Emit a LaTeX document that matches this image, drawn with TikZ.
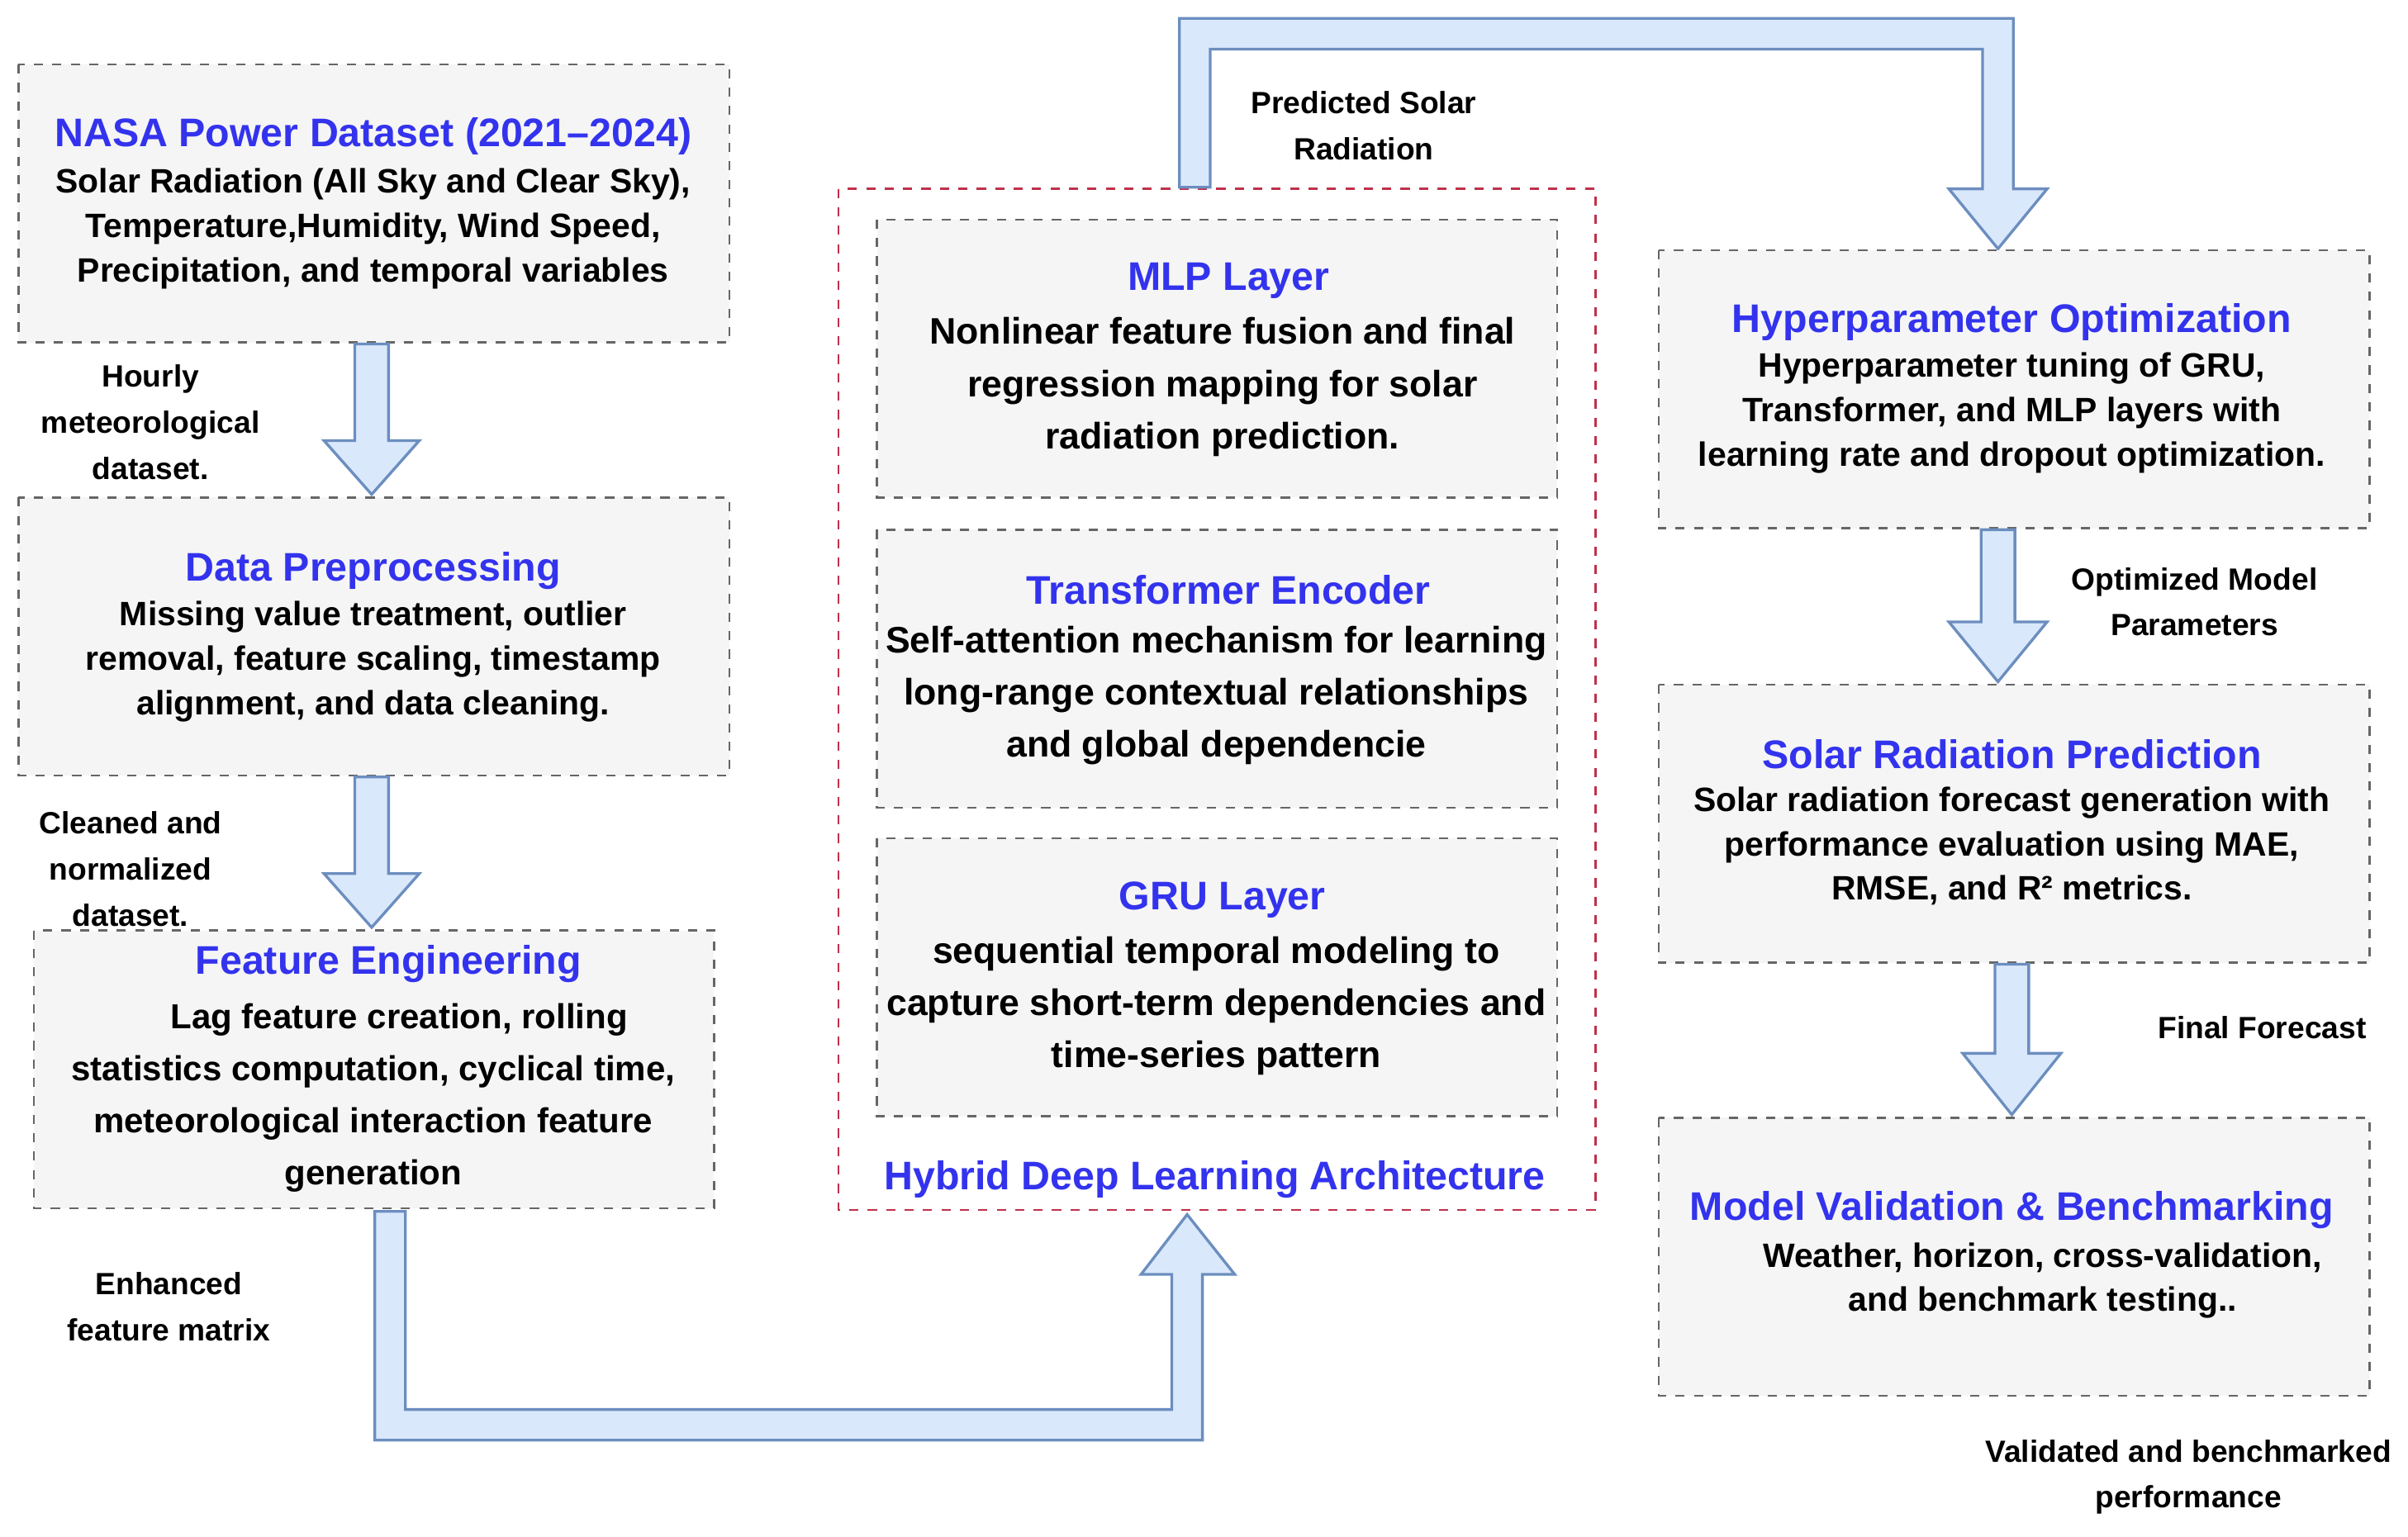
\documentclass[tikz,border=0pt]{standalone}
\usepackage{fontspec}
\setmainfont{Liberation Sans}
\definecolor{afill}{HTML}{DAE8FC}
\definecolor{aline}{HTML}{6C8EBF}
\definecolor{hblue}{HTML}{3333EE}
\definecolor{rdash}{HTML}{C0304A}
\begin{document}
\begin{tikzpicture}[x=0.5pt,y=-0.5pt,
 box/.style={draw=black!60,dashed,fill=black!4,line width=0.7pt},
 arr/.style={draw=aline,fill=afill,line width=0.9pt,line join=miter},
 hd/.style={text=hblue,font=\bfseries\fontsize{13}{15}\selectfont},
 bd/.style={align=center,font=\bfseries\fontsize{11}{14.5}\selectfont,inner sep=0},
 bdm/.style={align=center,font=\bfseries\fontsize{12}{17}\selectfont,inner sep=0},
 lb/.style={align=center,font=\bfseries\fontsize{10}{15}\selectfont,inner sep=0}]
\useasboundingbox (0,0) rectangle (1568,1001);
\fill[white] (0,0) rectangle (1568,1001);
% left boxes
\draw[box] (12,42) rectangle (475,223);
\node[hd] (h1) at (243,89) {NASA Power Dataset (2021–2024)};
\node[bd] (t1) at (243,149) {Solar Radiation (All Sky and Clear Sky),\\Temperature,Humidity, Wind Speed,\\Precipitation, and temporal variables};
\draw[box] (12,324) rectangle (475,505);
\node[hd] (h2) at (243,372) {Data Preprocessing};
\node[bd] (t2) at (243,431) {Missing value treatment, outlier\\removal, feature scaling, timestamp\\alignment, and data cleaning.};
\draw[box] (22,606) rectangle (465,787);
\node[hd] (h3) at (253,628) {Feature Engineering};
\node[bd,font=\bfseries\fontsize{11.3}{17}\selectfont] (t3) at (243,715) {\hspace*{1.5em}Lag feature creation, rolling\\statistics computation, cyclical time,\\meteorological interaction feature\\generation};
% arrows left
\draw[arr] (231,224)--(253,224)--(253,287)--(273,287)--(242,322)--(211,287)--(231,287)--cycle;
\draw[arr] (231,506)--(253,506)--(253,569)--(273,569)--(242,604)--(211,569)--(231,569)--cycle;
\node[lb] (l1) at (98,275) {Hourly\\meteorological\\dataset.};
\node[lb] (l2) at (85,566) {Cleaned and\\normalized\\dataset.};
\node[lb] (l3) at (110,851) {Enhanced\\feature matrix};
% big bottom arrow
\draw[arr] (244,789)--(264,789)--(264,918)--(763,918)--(763,830)--(743,830)--(773,791)--(804,830)--(783,830)--(783,938)--(244,938)--cycle;
% middle
\draw[dashed,draw=rdash,line width=0.7pt] (546,123) rectangle (1039,788);
\node[hd] (hh) at (791,768) {Hybrid Deep Learning Architecture};
\draw[box] (571,143) rectangle (1014,324);
\node[hd] (h4) at (800,183) {MLP Layer};
\node[bdm] (t4) at (796,252) {Nonlinear feature fusion and final\\regression mapping for solar\\radiation prediction.};
\draw[box] (571,345) rectangle (1014,526);
\node[hd] (h5) at (800,384) {Transformer Encoder};
\node[bdm] (t5) at (792,453) {Self-attention mechanism for learning\\long-range contextual relationships\\and global dependencie};
\draw[box] (571,546) rectangle (1014,727);
\node[hd] (h6) at (796,586) {GRU Layer};
\node[bdm] (t6) at (792,655) {sequential temporal modeling to\\capture short-term dependencies and\\time-series pattern};
% top arrow
\draw[arr] (768,122)--(768,12)--(1311,12)--(1311,123)--(1333,123)--(1301,162)--(1269,123)--(1291,123)--(1291,32)--(788,32)--(788,122)--cycle;
\node[lb] (l4) at (888,82) {Predicted Solar\\Radiation};
% right
\draw[box] (1080,163) rectangle (1543,344);
\node[hd] (h7) at (1310,210) {Hyperparameter Optimization};
\node[bd] (t7) at (1310,269) {Hyperparameter tuning of GRU,\\Transformer, and MLP layers with\\learning rate and dropout optimization.};
\draw[box] (1080,446) rectangle (1543,627);
\node[hd] (h8) at (1310,491) {Solar Radiation Prediction};
\node[bd] (t8) at (1310,551) {Solar radiation forecast generation with\\performance evaluation using MAE,\\RMSE, and R² metrics.};
\draw[box] (1080,728) rectangle (1543,909);
\node[hd] (h9) at (1310,788) {Model Validation \& Benchmarking};
\node[bd] (t9) at (1330,834) {Weather, horizon, cross-validation,\\and benchmark testing..};
\draw[arr] (1290,345)--(1312,345)--(1312,405)--(1333,405)--(1301,444)--(1269,405)--(1290,405)--cycle;
\draw[arr] (1299,628)--(1321,628)--(1321,686)--(1342,686)--(1310,726)--(1278,686)--(1299,686)--cycle;
\node[lb] (l5) at (1429,392) {Optimized Model\\Parameters};
\node[lb] (l6) at (1473,669) {Final Forecast};
\node[lb] (l7) at (1425,962) {Validated and benchmarked\\performance};
\end{tikzpicture}
\end{document}
